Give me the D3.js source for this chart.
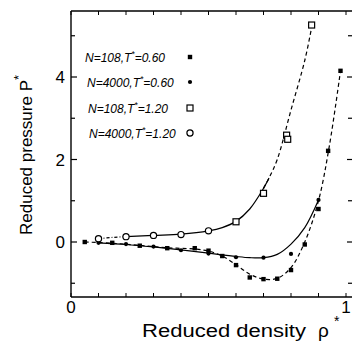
<!DOCTYPE html>
<html><head><meta charset="utf-8">
<script src="https://cdn.jsdelivr.net/npm/d3@7"></script>
<style>
html,body{margin:0;padding:0;background:#fff;}
svg{display:block;font-family:"Liberation Sans",Arial,Helvetica,sans-serif;}
</style></head>
<body>
<svg id="c" width="352" height="341"></svg>
<script>
// ---- data ----
// N=108, T*=0.60 (filled squares)
const sq060_x = [0.05,0.15,0.25,0.35,0.45,0.50,0.55,0.60,0.65,0.70,0.75,0.80,0.85,0.90,0.935,0.98];
const sq060_y = [0.00,-0.02,-0.09,-0.15,-0.15,-0.21,-0.34,-0.56,-0.86,-0.90,-0.89,-0.68,-0.06,0.80,2.21,4.15];
// N=4000, T*=0.60 (filled circles)
const ci060_x = [0.10,0.20,0.30,0.40,0.50,0.60,0.70,0.80,0.90];
const ci060_y = [-0.02,-0.05,-0.11,-0.20,-0.28,-0.37,-0.38,-0.29,1.02];
// N=108, T*=1.20 (open squares)
const sq120_x = [0.60,0.70,0.784,0.788,0.875];
const sq120_y = [0.49,1.18,2.59,2.49,5.26];
// N=4000, T*=1.20 (open circles)
const ci120_x = [0.10,0.20,0.30,0.40,0.50];
const ci120_y = [0.08,0.13,0.16,0.18,0.27];
// fitted curves
const fitSolid060_x = [0.10,0.20,0.30,0.40,0.50,0.60,0.65,0.70,0.75,0.80,0.85,0.90];
const fitSolid060_y = [-0.02,-0.06,-0.12,-0.19,-0.27,-0.35,-0.38,-0.38,-0.30,-0.05,0.35,1.02];
const fitDash060_x = [0.05,0.15,0.25,0.35,0.45,0.50,0.55,0.60,0.65,0.70,0.75,0.80,0.85,0.90,0.94,0.98];
const fitDash060_y = [0.00,-0.03,-0.08,-0.14,-0.17,-0.22,-0.34,-0.55,-0.78,-0.90,-0.88,-0.62,0.00,1.00,2.35,4.15];
const fitDot120_x = [0.10,0.15,0.20];
const fitDot120_y = [0.08,0.11,0.13];
const fitSolid120_x = [0.20,0.30,0.40,0.50,0.55,0.60,0.65,0.70,0.72];
const fitSolid120_y = [0.13,0.16,0.19,0.27,0.35,0.50,0.80,1.30,1.55];
const fitDash120_x = [0.70,0.72,0.75,0.80,0.85,0.875];
const fitDash120_y = [1.30,1.55,2.00,3.20,4.40,5.20];
// axis ticks / labels
const xTicks = [0,0.1,0.2,0.3,0.4,0.5,0.6,0.7,0.8,0.9,1.0];
const xTickLabels = ["0","1"];
const yMajor = [0,2,4];
const yMinor = [-1,1,3,5];
const legendLabels = ["N=108,T","N=4000,T","N=108,T","N=4000,T"];
const legendTemps = ["=0.60","=0.60","=1.20","=1.20"];

// ---- scales ----
const x = d3.scaleLinear().domain([0,1.0218]).range([71,352]);
const y = d3.scaleLinear().domain([-1.3333,5.6]).range([297,11]);
const svg = d3.select("#c");
const zip = (a,b)=>a.map((v,i)=>[v,b[i]]);

// frame
const g = svg.append("g").attr("stroke","#000").attr("fill","none");
g.append("line").attr("x1",x(0)).attr("x2",x(0)).attr("y1",y(5.6)).attr("y2",y(-1.3333)).attr("stroke-width",1.4);
g.append("line").attr("x1",x(0)).attr("x2",352).attr("y1",y(-1.3333)).attr("y2",y(-1.3333)).attr("stroke-width",1.4);
g.append("line").attr("x1",x(0)).attr("x2",352).attr("y1",y(5.6)).attr("y2",y(5.6)).attr("stroke-width",1.4);

// x ticks bottom & top
xTicks.forEach(t=>{
  g.append("line").attr("x1",x(t)).attr("x2",x(t)).attr("y1",y(-1.3333)).attr("y2",y(-1.3333)-4).attr("stroke-width",1);
  g.append("line").attr("x1",x(t)).attr("x2",x(t)).attr("y1",y(5.6)).attr("y2",y(5.6)+4).attr("stroke-width",1);
});
// y ticks left & right
yMajor.forEach(t=>{
  g.append("line").attr("x1",x(0)).attr("x2",x(0)+6).attr("y1",y(t)).attr("y2",y(t)).attr("stroke-width",1.2);
  g.append("line").attr("x1",347).attr("x2",352).attr("y1",y(t)).attr("y2",y(t)).attr("stroke-width",1.2);
});
yMinor.forEach(t=>{
  g.append("line").attr("x1",x(0)).attr("x2",x(0)+4).attr("y1",y(t)).attr("y2",y(t)).attr("stroke-width",1.2);
  g.append("line").attr("x1",348).attr("x2",352).attr("y1",y(t)).attr("y2",y(t)).attr("stroke-width",1.2);
});

// tick labels
svg.selectAll(".yl").data(yMajor).enter().append("text")
  .attr("x",65).attr("y",d=>y(d)+6).attr("text-anchor","end")
  .attr("font-size",17).text(d=>d);
svg.selectAll(".xl").data([0,1]).enter().append("text")
  .attr("x",d=>x(d)).attr("y",313).attr("text-anchor","middle")
  .attr("font-size",17).text((d,i)=>xTickLabels[i]);

// axis titles
svg.append("text").attr("x",142).attr("y",337).attr("font-size",18)
  .attr("textLength",164).attr("lengthAdjust","spacingAndGlyphs").text("Reduced density");
svg.append("text").attr("x",318).attr("y",337).attr("font-size",19).text("ρ");
svg.append("text").attr("x",334).attr("y",326).attr("font-size",14).text("*");
const yt = svg.append("text").attr("transform","translate(32,235) rotate(-90)").attr("font-size",17);
yt.append("tspan").text("Reduced pressure P");
yt.append("tspan").attr("dy",-9).attr("font-size",13).text("*");

// curves
const line = d3.line().x(d=>x(d[0])).y(d=>y(d[1])).curve(d3.curveCatmullRom.alpha(0.5));
const lg = svg.append("g").attr("fill","none").attr("stroke","#000").attr("stroke-width",1.2);
lg.append("path").attr("d",line(zip(fitSolid060_x,fitSolid060_y)));
lg.append("path").attr("d",line(zip(fitDash060_x,fitDash060_y))).attr("stroke-dasharray","4,3");
lg.append("path").attr("d",line(zip(fitDot120_x,fitDot120_y))).attr("stroke-dasharray","3,2,1,2");
lg.append("path").attr("d",line(zip(fitSolid120_x,fitSolid120_y)));
lg.append("path").attr("d",line(zip(fitDash120_x,fitDash120_y))).attr("stroke-dasharray","4,3");

// markers
const mk = svg.append("g");
function fsq(cx,cy){mk.append("rect").attr("x",cx-2.2).attr("y",cy-2.2).attr("width",4.4).attr("height",4.4).attr("fill","#000");}
function fci(cx,cy){mk.append("circle").attr("cx",cx).attr("cy",cy).attr("r",2.1).attr("fill","#000");}
function osq(cx,cy){mk.append("rect").attr("x",cx-3).attr("y",cy-3).attr("width",6).attr("height",6).attr("fill","#fff").attr("stroke","#000").attr("stroke-width",1.2);}
function oci(cx,cy){mk.append("circle").attr("cx",cx).attr("cy",cy).attr("r",3.1).attr("fill","#fff").attr("stroke","#000").attr("stroke-width",1.2);}
zip(sq060_x,sq060_y).forEach(d=>fsq(x(d[0]),y(d[1])));
zip(ci060_x,ci060_y).forEach(d=>fci(x(d[0]),y(d[1])));
zip(sq120_x,sq120_y).forEach(d=>osq(x(d[0]),y(d[1])));
zip(ci120_x,ci120_y).forEach(d=>oci(x(d[0]),y(d[1])));

// legend
const legY = [57,82,108,133];
const legX = [85,87,88,89];
const markFns = [fsq,fci,osq,oci];
legendLabels.forEach((l,i)=>{
  const t = svg.append("text").attr("x",legX[i]).attr("y",legY[i]+4.5).attr("font-size",12).attr("font-style","italic");
  t.append("tspan").text(l);
  t.append("tspan").attr("dy",-5).attr("font-size",8.5).text("*");
  t.append("tspan").attr("dy",5).text(legendTemps[i]);
  markFns[i](190,legY[i]);
});
</script>
</body></html>
